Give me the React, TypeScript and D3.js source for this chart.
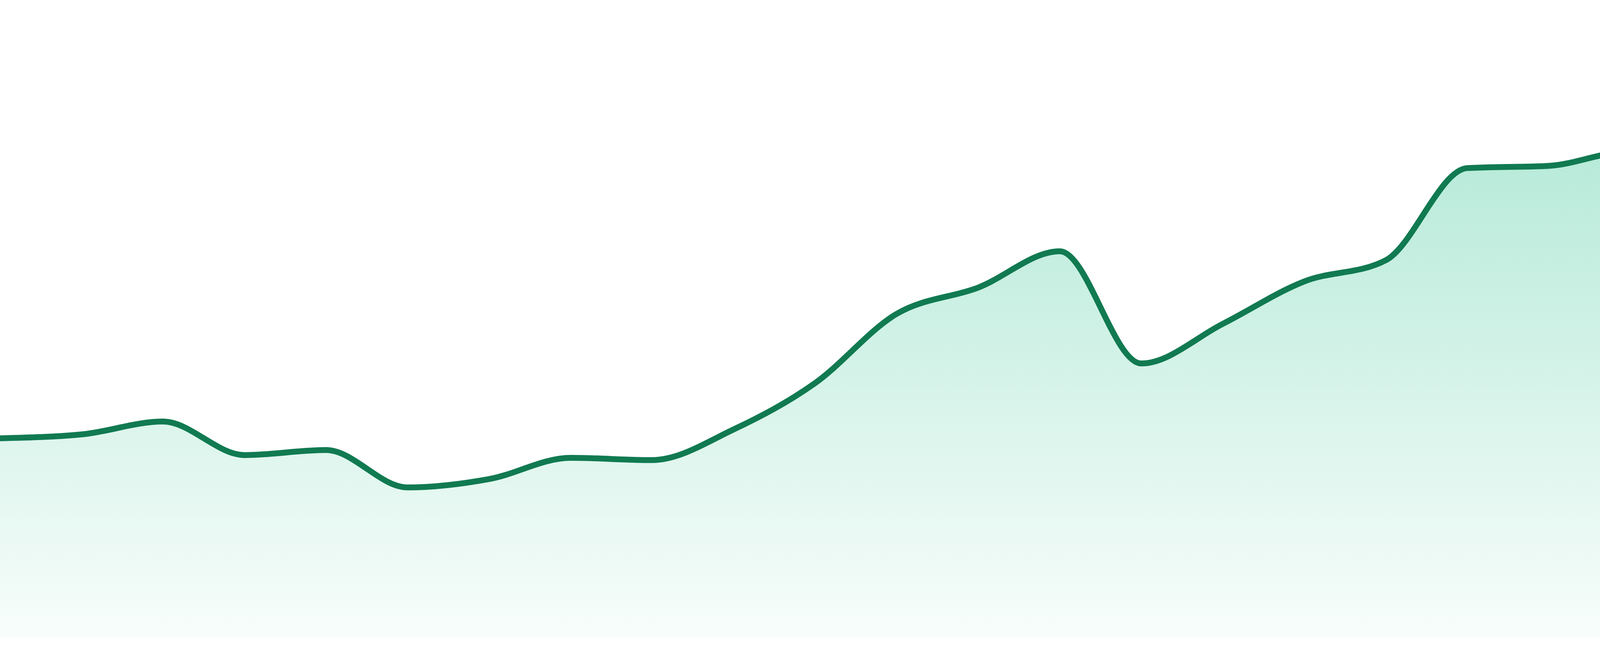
import React from "react";
import * as d3 from "d3";

const WIDTH = 4800;
const HEIGHT = 1680;
const BASELINE_Y = 1633;
const TOP_Y = 203;

// One value per period
const periods: number[] = Array.from({ length: 24 }, (_, i) => i);
const values: number[] = [
  35.7, 36.4, 38.7, 32.7, 33.6, 26.9, 28.4, 32.2, 31.8, 37.3, 45.6, 58.0,
  62.7, 69.2, 49.1, 56.2, 63.8, 67.6, 84.1, 84.5, 87.1, 77.6, 98.3, 100.0,
];
const valueDomain: [number, number] = [0, 100];

const STROKE = "#117a51";
const FILL = "#10b981";

export default function App() {
  const x = d3
    .scaleLinear()
    .domain([0, periods.length - 1])
    .range([0, WIDTH]);
  const y = d3.scaleLinear().domain(valueDomain).range([BASELINE_Y, TOP_Y]);

  const data = periods.map((p, i) => ({ p, v: values[i] }));

  const area = d3
    .area<{ p: number; v: number }>()
    .x((d) => x(d.p))
    .y0(y(valueDomain[0]))
    .y1((d) => y(d.v))
    .curve(d3.curveMonotoneX);

  const line = d3
    .line<{ p: number; v: number }>()
    .x((d) => x(d.p))
    .y((d) => y(d.v))
    .curve(d3.curveMonotoneX);

  return (
    <svg
      width={WIDTH}
      height={HEIGHT}
      style={{ position: "absolute", left: 0, top: 0, display: "block" }}
    >
      <defs>
        <linearGradient id="areaFill" x1="0" y1="0" x2="0" y2="1">
          <stop offset="0%" stopColor={FILL} stopOpacity={0.34} />
          <stop offset="100%" stopColor={FILL} stopOpacity={0.03} />
        </linearGradient>
      </defs>
      <rect x={0} y={0} width={WIDTH} height={HEIGHT} fill="#ffffff" />
      <path d={area(data) ?? ""} fill="url(#areaFill)" />
      <path
        d={line(data) ?? ""}
        fill="none"
        stroke={STROKE}
        strokeWidth={15}
        strokeLinejoin="round"
        strokeLinecap="round"
      />
    </svg>
  );
}
